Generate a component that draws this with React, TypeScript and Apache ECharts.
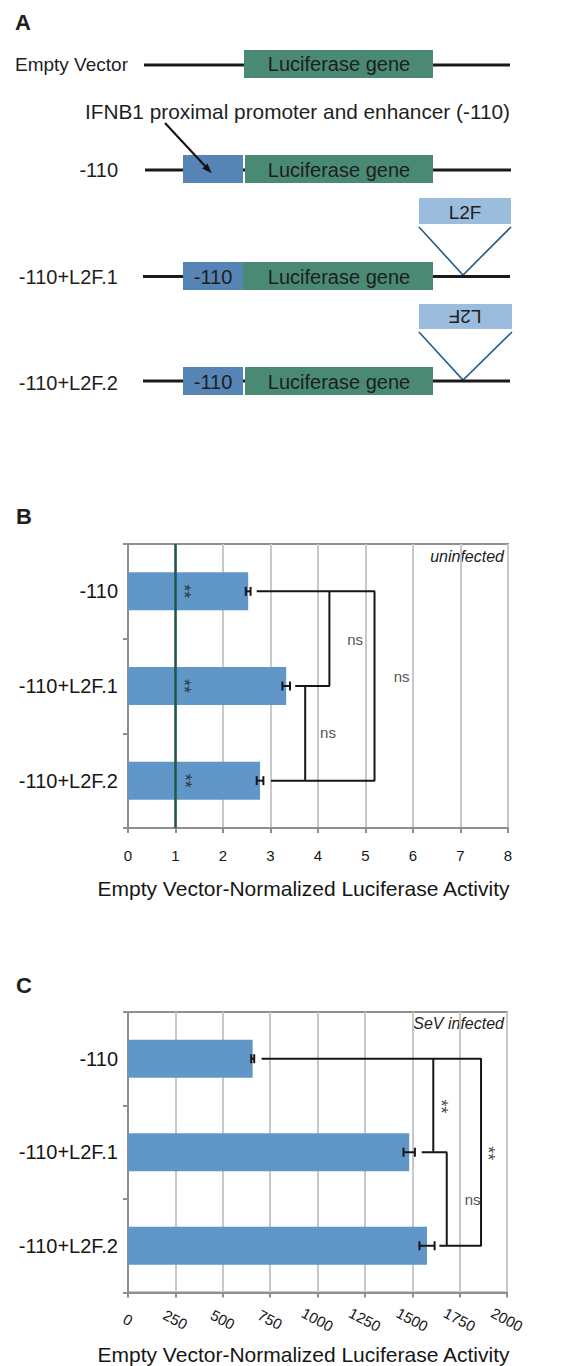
import React, { useEffect, useRef } from 'react';
import * as echarts from 'echarts';

const FONT = '"Liberation Sans", Arial, sans-serif';

// ---------- data ----------
const categories = ['-110', '-110+L2F.1', '-110+L2F.2'];
const uninfectedValues = [2.53, 3.33, 2.78];
const uninfectedErrors = [0.05, 0.08, 0.07];
const infectedValues = [658, 1484, 1578];
const infectedErrors = [8, 30, 40];
const emptyVectorLevel = 1;
const axisTitle = 'Empty Vector-Normalized Luciferase Activity';

// bracket polylines, in (value, category index) units
const bracketsB = [
  [[2.71, 0], [5.19, 0], [5.19, 2], [3.01, 2]],
  [[4.24, 0], [4.24, 1], [3.52, 1]],
  [[3.73, 1], [3.73, 2]],
];
const bracketsC = [
  [[705, 0], [1863, 0], [1863, 2], [1643, 2]],
  [[1611, 0], [1611, 1]],
  [[1550, 1], [1682, 1], [1682, 2]],
];
// significance marks: [value, category index, text, rotated]
const marksB: [number, number, string, boolean][] = [
  [1.17, 0, '**', true],
  [1.17, 1, '**', true],
  [1.2, 2, '**', true],
  [4.78, 0.51, 'ns', false],
  [5.76, 0.9, 'ns', false],
  [4.21, 1.49, 'ns', false],
];
const marksC: [number, number, string, boolean][] = [
  [1652, 0.51, '**', true],
  [1902, 1.01, '**', true],
  [1819, 1.5, 'ns', false],
];

const BAR = '#6097c8';
const AXIS = '#8f8f8f';
const GRIDLINE = '#c8c8c8';
const INK = '#161616';

function panelSeries(
  gi: number,
  values: number[],
  errors: number[],
  brackets: number[][][],
  marks: [number, number, string, boolean][],
  withRef: boolean
) {
  const xi = gi;
  const yCat = gi * 2;
  const yVal = gi * 2 + 1;
  const out: any[] = [];
  const bar: any = {
    type: 'bar',
    xAxisIndex: xi,
    yAxisIndex: yCat,
    data: values,
    barWidth: 38,
    itemStyle: { color: BAR },
    z: 2,
  };
  if (withRef) {
    bar.markLine = {
      silent: true,
      symbol: ['none', 'none'],
      label: { show: false },
      lineStyle: { color: '#1f5747', width: 2.5, type: 'solid' },
      data: [{ xAxis: emptyVectorLevel }],
      z: 3,
    };
  }
  out.push(bar);
  out.push({
    type: 'custom',
    xAxisIndex: xi,
    yAxisIndex: yVal,
    data: values.map((v, i) => [v, i, errors[i]]),
    encode: { x: 0, y: 1 },
    z: 5,
    renderItem: (_p: any, api: any) => {
      const v = api.value(0);
      const y = api.value(1);
      const e = api.value(2);
      const a = api.coord([v - e, y]);
      const b = api.coord([v + e, y]);
      const h = 4.5;
      const st = { stroke: INK, lineWidth: 2 };
      return {
        type: 'group',
        children: [
          { type: 'line', shape: { x1: a[0], y1: a[1], x2: b[0], y2: b[1] }, style: st },
          { type: 'line', shape: { x1: a[0], y1: a[1] - h, x2: a[0], y2: a[1] + h }, style: st },
          { type: 'line', shape: { x1: b[0], y1: b[1] - h, x2: b[0], y2: b[1] + h }, style: st },
        ],
      };
    },
  });
  brackets.forEach((pts) => {
    out.push({
      type: 'line',
      xAxisIndex: xi,
      yAxisIndex: yVal,
      data: pts,
      symbol: 'none',
      lineStyle: { color: INK, width: 2 },
      z: 5,
    });
  });
  out.push({
    type: 'scatter',
    xAxisIndex: xi,
    yAxisIndex: yVal,
    symbolSize: 1,
    itemStyle: { color: 'rgba(255,255,255,0)' },
    z: 6,
    data: marks.map((m) => ({
      value: [m[0], m[1]],
      label: {
        show: true,
        position: 'inside',
        formatter: m[2],
        rotate: m[3] ? -90 : 0,
        fontSize: m[3] ? 18 : 15,
        color: '#222',
        textBorderWidth: 0,
        fontFamily: FONT,
      },
    })),
  });
  return out;
}

function catAxis(gi: number) {
  return {
    type: 'category',
    gridIndex: gi,
    data: categories,
    inverse: true,
    axisLine: { show: true, onZero: false, lineStyle: { color: AXIS, width: 2 } },
    axisTick: { show: true, length: 5, lineStyle: { color: AXIS, width: 2 } },
    axisLabel: { color: INK, fontSize: 20, margin: 10, fontFamily: FONT },
    splitLine: { show: false },
  };
}
function hiddenAxis(gi: number) {
  return { type: 'value', gridIndex: gi, min: -0.5, max: 2.5, inverse: true, show: false };
}

export default function App() {
  const ref = useRef<HTMLDivElement>(null);
  useEffect(() => {
    if (!ref.current) return;
    const chart = echarts.init(ref.current, undefined, { renderer: 'svg' });

    const g: any[] = [];
    const txt = (x: number, y: number, text: string, o: any = {}) =>
      g.push({
        type: 'text',
        x,
        y,
        rotation: o.rotation || 0,
        style: {
          text,
          fill: o.fill || '#1e1e1e',
          fontSize: o.size || 20,
          fontFamily: FONT,
          fontWeight: o.weight || 'normal',
          fontStyle: o.style || 'normal',
          align: o.align || 'left',
          verticalAlign: 'middle',
        },
      });
    const rect = (x1: number, y1: number, x2: number, y2: number, fill: string) =>
      g.push({ type: 'rect', shape: { x: x1, y: y1, width: x2 - x1, height: y2 - y1 }, style: { fill } });
    const line = (x1: number, y1: number, x2: number, y2: number, stroke: string, w: number) =>
      g.push({ type: 'line', shape: { x1, y1, x2, y2 }, style: { stroke, lineWidth: w } });

    const GREEN = '#4a8a74';
    const BLUE = '#5584b5';
    const LIGHT = '#9bbcdc';
    const TRI = '#275b8a';

    // Panel letters
    txt(15, 22, 'A', { weight: 'bold', size: 22 });
    txt(16, 516, 'B', { weight: 'bold', size: 22 });
    txt(16, 985, 'C', { weight: 'bold', size: 22 });

    // Row 1: empty vector
    txt(15, 64, 'Empty Vector', { size: 19 });
    line(144, 65, 510, 65, '#1a1a1a', 3);
    rect(244, 50, 433, 78, GREEN);
    txt(339, 64, 'Luciferase gene', { align: 'center' });

    // annotation text + arrow
    txt(85, 111, 'IFNB1 proximal promoter and enhancer (-110)', { size: 20.8 });

    // Row 2
    txt(118, 170, '-110', { align: 'right' });
    line(145, 170, 511, 170, '#1a1a1a', 3);
    rect(183, 155, 243, 183, BLUE);
    rect(245, 155, 433, 183, GREEN);
    txt(339, 170, 'Luciferase gene', { align: 'center' });
    line(165, 123, 205, 166, '#111', 2);
    g.push({
      type: 'polygon',
      shape: { points: [[211.7, 173.3], [202.3, 168.4], [207.5, 163.6]] },
      style: { fill: '#111' },
    });

    // L2F insert 1
    rect(419, 198, 511, 224, LIGHT);
    txt(465, 212, 'L2F', { align: 'center', size: 19 });
    g.push({
      type: 'polyline',
      shape: { points: [[419, 227], [463, 275], [511, 227]] },
      style: { stroke: TRI, lineWidth: 1.6, fill: null },
    });

    // Row 3
    txt(118, 277, '-110+L2F.1', { align: 'right' });
    line(143, 276.5, 510, 276.5, '#1a1a1a', 3);
    rect(183, 262, 243, 290, BLUE);
    rect(243, 262, 433, 290, GREEN);
    txt(213, 277, '-110', { align: 'center' });
    txt(339, 277, 'Luciferase gene', { align: 'center' });

    // L2F insert 2 (inverted)
    rect(419, 304, 512, 329, LIGHT);
    txt(465, 316.5, 'L2F', { align: 'center', size: 19, rotation: Math.PI });
    g.push({
      type: 'polyline',
      shape: { points: [[419, 332], [463, 380], [512, 332]] },
      style: { stroke: TRI, lineWidth: 1.6, fill: null },
    });

    // Row 4
    txt(118, 382.5, '-110+L2F.2', { align: 'right' });
    line(143, 381, 510, 381, '#1a1a1a', 3);
    rect(183, 367, 243, 395, BLUE);
    rect(245, 367, 433, 395, GREEN);
    txt(213, 382, '-110', { align: 'center' });
    txt(339, 382, 'Luciferase gene', { align: 'center' });

    // condition labels
    txt(504, 556, 'uninfected', { align: 'right', size: 16, style: 'italic' });
    txt(504, 1023, 'SeV infected', { align: 'right', size: 16, style: 'italic' });

    const valueAxisCommon = {
      axisLine: { show: true, onZero: false, lineStyle: { color: AXIS, width: 2 } },
      axisTick: { show: true, length: 5, lineStyle: { color: AXIS, width: 2 } },
      splitLine: { show: true, lineStyle: { color: GRIDLINE, width: 2 } },
      nameLocation: 'middle',
    };

    const option: any = {
      animation: false,
      textStyle: { fontFamily: FONT },
      grid: [
        { left: 128, top: 544, width: 380, height: 284, show: true, borderColor: AXIS, borderWidth: 2, backgroundColor: '#fff' },
        { left: 128, top: 1012, width: 379, height: 283, show: true, borderColor: AXIS, borderWidth: 2, backgroundColor: '#fff' },
      ],
      xAxis: [
        {
          ...valueAxisCommon,
          type: 'value',
          gridIndex: 0,
          min: 0,
          max: 8,
          interval: 1,
          axisLabel: { color: INK, fontSize: 15, margin: 27, verticalAlign: 'middle', fontFamily: FONT },
          name: axisTitle,
          nameGap: 60,
          nameTextStyle: { color: INK, fontSize: 21, verticalAlign: 'middle', padding: [0, 29, 0, 0], fontFamily: FONT },
        },
        {
          ...valueAxisCommon,
          type: 'value',
          gridIndex: 1,
          min: 0,
          max: 2000,
          interval: 250,
          axisLabel: {
            color: INK,
            fontSize: 15,
            margin: 27,
            rotate: -28,
            align: 'center',
            verticalAlign: 'middle',
            fontFamily: FONT,
            formatter: (v: number) => String(v),
          },
          name: axisTitle,
          nameGap: 62,
          nameTextStyle: { color: INK, fontSize: 21, verticalAlign: 'middle', padding: [0, 28, 0, 0], fontFamily: FONT },
        },
      ],
      yAxis: [catAxis(0), hiddenAxis(0), catAxis(1), hiddenAxis(1)],
      series: [
        ...panelSeries(0, uninfectedValues, uninfectedErrors, bracketsB, marksB, true),
        ...panelSeries(1, infectedValues, infectedErrors, bracketsC, marksC, false),
      ],
      graphic: g,
    };
    chart.setOption(option);
    return () => chart.dispose();
  }, []);
  return (
    <div
      ref={ref}
      style={{ position: 'absolute', left: 0, top: 0, width: 564, height: 1366, background: '#fff' }}
    />
  );
}
